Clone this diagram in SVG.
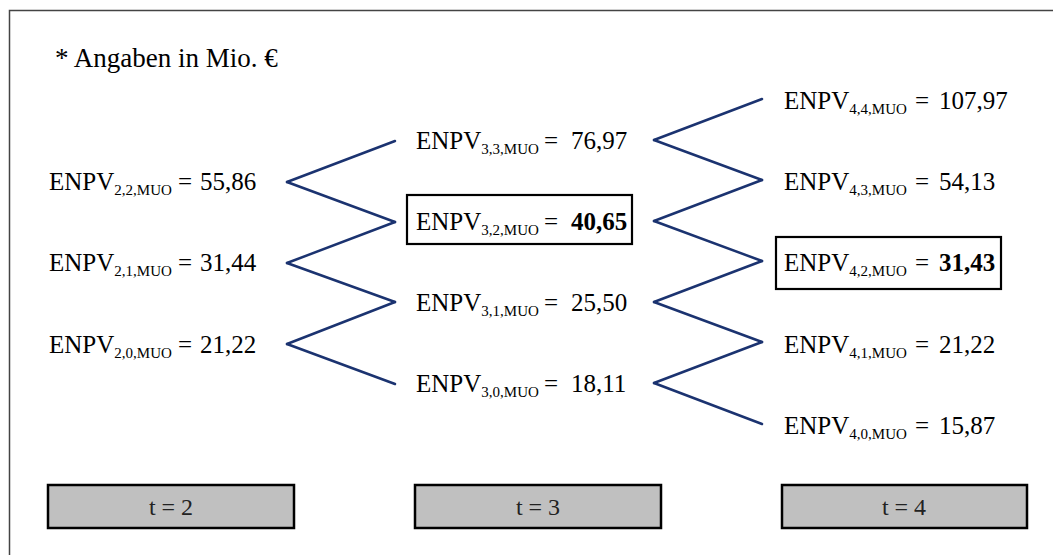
<svg xmlns="http://www.w3.org/2000/svg" width="1053" height="555" viewBox="0 0 1053 555">
<style>
text{font-family:Liberation Serif,Times New Roman,Times,Nimbus Roman,Noto Serif,DejaVu Serif,serif}
.lbl{font-size:25px}
.sub{font-size:15px}
.b{font-weight:bold}
.con line{stroke:#1b3370;stroke-width:2.5;stroke-linecap:round}
.hl{fill:#fff;stroke:#000;stroke-width:2.2}
.tb{fill:#c0c0c0;stroke:#000;stroke-width:2.5}
.tt{font-size:24px;fill:#222;text-anchor:middle}
</style>
<rect x="9.5" y="10.5" width="1060" height="560" fill="#fff" stroke="#444" stroke-width="1.5"/>
<text x="55" y="67" font-size="27">* Angaben in Mio. €</text>
<g class="con" id="connectors">
<line x1="287" y1="182" x2="395" y2="141"/>
<line x1="287" y1="182" x2="395" y2="222"/>
<line x1="287" y1="263" x2="395" y2="222"/>
<line x1="287" y1="263" x2="395" y2="302"/>
<line x1="287" y1="344" x2="395" y2="302"/>
<line x1="287" y1="344" x2="395" y2="384"/>
<line x1="654" y1="140" x2="762" y2="99"/>
<line x1="654" y1="140" x2="762" y2="180"/>
<line x1="654" y1="221" x2="762" y2="180"/>
<line x1="654" y1="221" x2="762" y2="261"/>
<line x1="654" y1="302" x2="762" y2="261"/>
<line x1="654" y1="302" x2="762" y2="342"/>
<line x1="654" y1="383" x2="762" y2="342"/>
<line x1="654" y1="383" x2="762" y2="424"/>
</g>
<g id="n22"><text class="lbl" x="49" y="190">ENPV<tspan class="sub" dy="5">2,2,MUO</tspan><tspan x="178" dy="-5">=</tspan><tspan x="200">55,86</tspan></text></g>
<g id="n21"><text class="lbl" x="49" y="271">ENPV<tspan class="sub" dy="5">2,1,MUO</tspan><tspan x="178" dy="-5">=</tspan><tspan x="200">31,44</tspan></text></g>
<g id="n20"><text class="lbl" x="49" y="353">ENPV<tspan class="sub" dy="5">2,0,MUO</tspan><tspan x="178" dy="-5">=</tspan><tspan x="200">21,22</tspan></text></g>
<g id="n33"><text class="lbl" x="416" y="149">ENPV<tspan class="sub" dy="5">3,3,MUO</tspan><tspan x="544" dy="-5">=</tspan><tspan x="571">76,97</tspan></text></g>
<g id="n32"><rect class="hl" x="407" y="195" width="225" height="49"/><text class="lbl" x="416" y="230">ENPV<tspan class="sub" dy="5">3,2,MUO</tspan><tspan x="544" dy="-5">=</tspan><tspan x="571" class="b">40,65</tspan></text></g>
<g id="n31"><text class="lbl" x="416" y="311">ENPV<tspan class="sub" dy="5">3,1,MUO</tspan><tspan x="544" dy="-5">=</tspan><tspan x="571">25,50</tspan></text></g>
<g id="n30"><text class="lbl" x="416" y="392">ENPV<tspan class="sub" dy="5">3,0,MUO</tspan><tspan x="544" dy="-5">=</tspan><tspan x="571">18,11</tspan></text></g>
<g id="n44"><text class="lbl" x="784" y="109">ENPV<tspan class="sub" dy="5">4,4,MUO</tspan><tspan x="915" dy="-5">=</tspan><tspan x="939">107,97</tspan></text></g>
<g id="n43"><text class="lbl" x="784" y="190">ENPV<tspan class="sub" dy="5">4,3,MUO</tspan><tspan x="915" dy="-5">=</tspan><tspan x="939">54,13</tspan></text></g>
<g id="n42"><rect class="hl" x="776" y="237" width="225" height="52"/><text class="lbl" x="784" y="271">ENPV<tspan class="sub" dy="5">4,2,MUO</tspan><tspan x="915" dy="-5">=</tspan><tspan x="939" class="b">31,43</tspan></text></g>
<g id="n41"><text class="lbl" x="784" y="353">ENPV<tspan class="sub" dy="5">4,1,MUO</tspan><tspan x="915" dy="-5">=</tspan><tspan x="939">21,22</tspan></text></g>
<g id="n40"><text class="lbl" x="784" y="434">ENPV<tspan class="sub" dy="5">4,0,MUO</tspan><tspan x="915" dy="-5">=</tspan><tspan x="939">15,87</tspan></text></g>
<g id="t2"><rect class="tb" x="48" y="485" width="246" height="43"/><text class="tt" x="171" y="515">t = 2</text></g>
<g id="t3"><rect class="tb" x="415" y="485" width="246" height="43"/><text class="tt" x="538" y="515">t = 3</text></g>
<g id="t4"><rect class="tb" x="782" y="485" width="245" height="43"/><text class="tt" x="904" y="515">t = 4</text></g>
</svg>
